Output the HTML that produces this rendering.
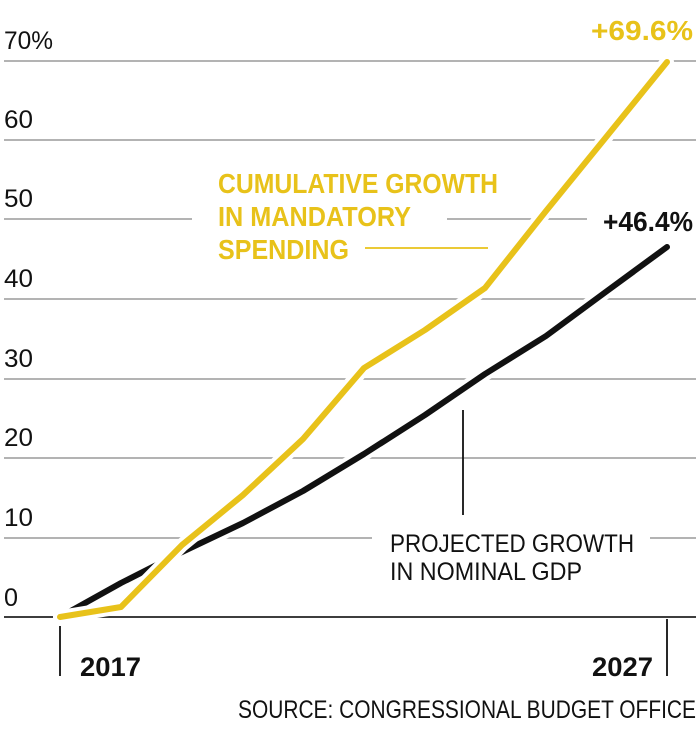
<!DOCTYPE html>
<html><head><meta charset="utf-8"><style>
html,body{margin:0;padding:0;background:#fff;}
svg{display:block;}
text{font-family:"Liberation Sans",sans-serif;}
</style></head><body>
<svg width="700" height="740" viewBox="0 0 700 740" xmlns="http://www.w3.org/2000/svg">
<g stroke="#9a9a9a" stroke-width="1.6">
<line x1="4" y1="61" x2="696" y2="61"/>
<line x1="4" y1="140" x2="696" y2="140"/>
<line x1="4" y1="219" x2="192" y2="219"/>
<line x1="447" y1="219" x2="587" y2="219"/>
<line x1="4" y1="299" x2="696" y2="299"/>
<line x1="4" y1="379" x2="696" y2="379"/>
<line x1="4" y1="458" x2="696" y2="458"/>
<line x1="4" y1="538" x2="372" y2="538"/>
<line x1="650" y1="538" x2="696" y2="538"/>
</g>
<line x1="4" y1="617" x2="696" y2="617" stroke="#222" stroke-width="1.8"/>
<line x1="60" y1="626" x2="60" y2="676" stroke="#111" stroke-width="1.8"/>
<line x1="667" y1="619" x2="667" y2="676" stroke="#111" stroke-width="1.8"/>
<line x1="463" y1="410" x2="463" y2="515" stroke="#111" stroke-width="1.8"/>
<line x1="365" y1="248" x2="488" y2="248" stroke="#e8c21a" stroke-width="1.8"/>
<g fill="none" stroke-linejoin="round" stroke-linecap="round">
<polyline stroke="#fff" stroke-width="14" points="60,617 121,583 182,552 243,523 303,491 364,454 425,415 485,374 546,336 607,291 667,247"/>
<polyline stroke="#111" stroke-width="6" points="60,617 121,583 182,552 243,523 303,491 364,454 425,415 485,374 546,336 607,291 667,247"/>
<polyline stroke="#fff" stroke-width="14" points="60,617 121,607 182,545 243,495 303,439 364,368 425,330 485,288 546,211 607,136 667,62"/>
<polyline stroke="#e8c21a" stroke-width="6" points="60,617 121,607 182,545 243,495 303,439 364,368 425,330 485,288 546,211 607,136 667,62"/>
</g>
<g font-size="25" fill="#111">
<text x="4" y="49" textLength="49" lengthAdjust="spacingAndGlyphs">70%</text>
<text x="4" y="128" textLength="29" lengthAdjust="spacingAndGlyphs">60</text>
<text x="4" y="207" textLength="29" lengthAdjust="spacingAndGlyphs">50</text>
<text x="4" y="287" textLength="29" lengthAdjust="spacingAndGlyphs">40</text>
<text x="4" y="367" textLength="29" lengthAdjust="spacingAndGlyphs">30</text>
<text x="4" y="446" textLength="29" lengthAdjust="spacingAndGlyphs">20</text>
<text x="4" y="526" textLength="29" lengthAdjust="spacingAndGlyphs">10</text>
<text x="4" y="606" textLength="14" lengthAdjust="spacingAndGlyphs">0</text>
</g>
<g font-size="28" font-weight="bold" fill="#e8c21a">
<text x="218" y="193" textLength="280" lengthAdjust="spacingAndGlyphs">CUMULATIVE GROWTH</text>
<text x="218" y="226" textLength="193" lengthAdjust="spacingAndGlyphs">IN MANDATORY</text>
<text x="218" y="259" textLength="131" lengthAdjust="spacingAndGlyphs">SPENDING</text>
<text x="591" y="40" textLength="102" lengthAdjust="spacingAndGlyphs">+69.6%</text>
</g>
<text x="603" y="231" font-size="28" font-weight="bold" fill="#111" textLength="90" lengthAdjust="spacingAndGlyphs">+46.4%</text>
<g font-size="25" fill="#111">
<text x="390" y="552" textLength="244" lengthAdjust="spacingAndGlyphs">PROJECTED GROWTH</text>
<text x="390" y="580" textLength="192" lengthAdjust="spacingAndGlyphs">IN NOMINAL GDP</text>
</g>
<g font-size="27" font-weight="bold" fill="#111">
<text x="80" y="676" textLength="61" lengthAdjust="spacingAndGlyphs">2017</text>
<text x="592" y="676" textLength="61" lengthAdjust="spacingAndGlyphs">2027</text>
</g>
<text x="238" y="718" font-size="25" fill="#111" textLength="458" lengthAdjust="spacingAndGlyphs">SOURCE: CONGRESSIONAL BUDGET OFFICE</text>
</svg>
</body></html>
